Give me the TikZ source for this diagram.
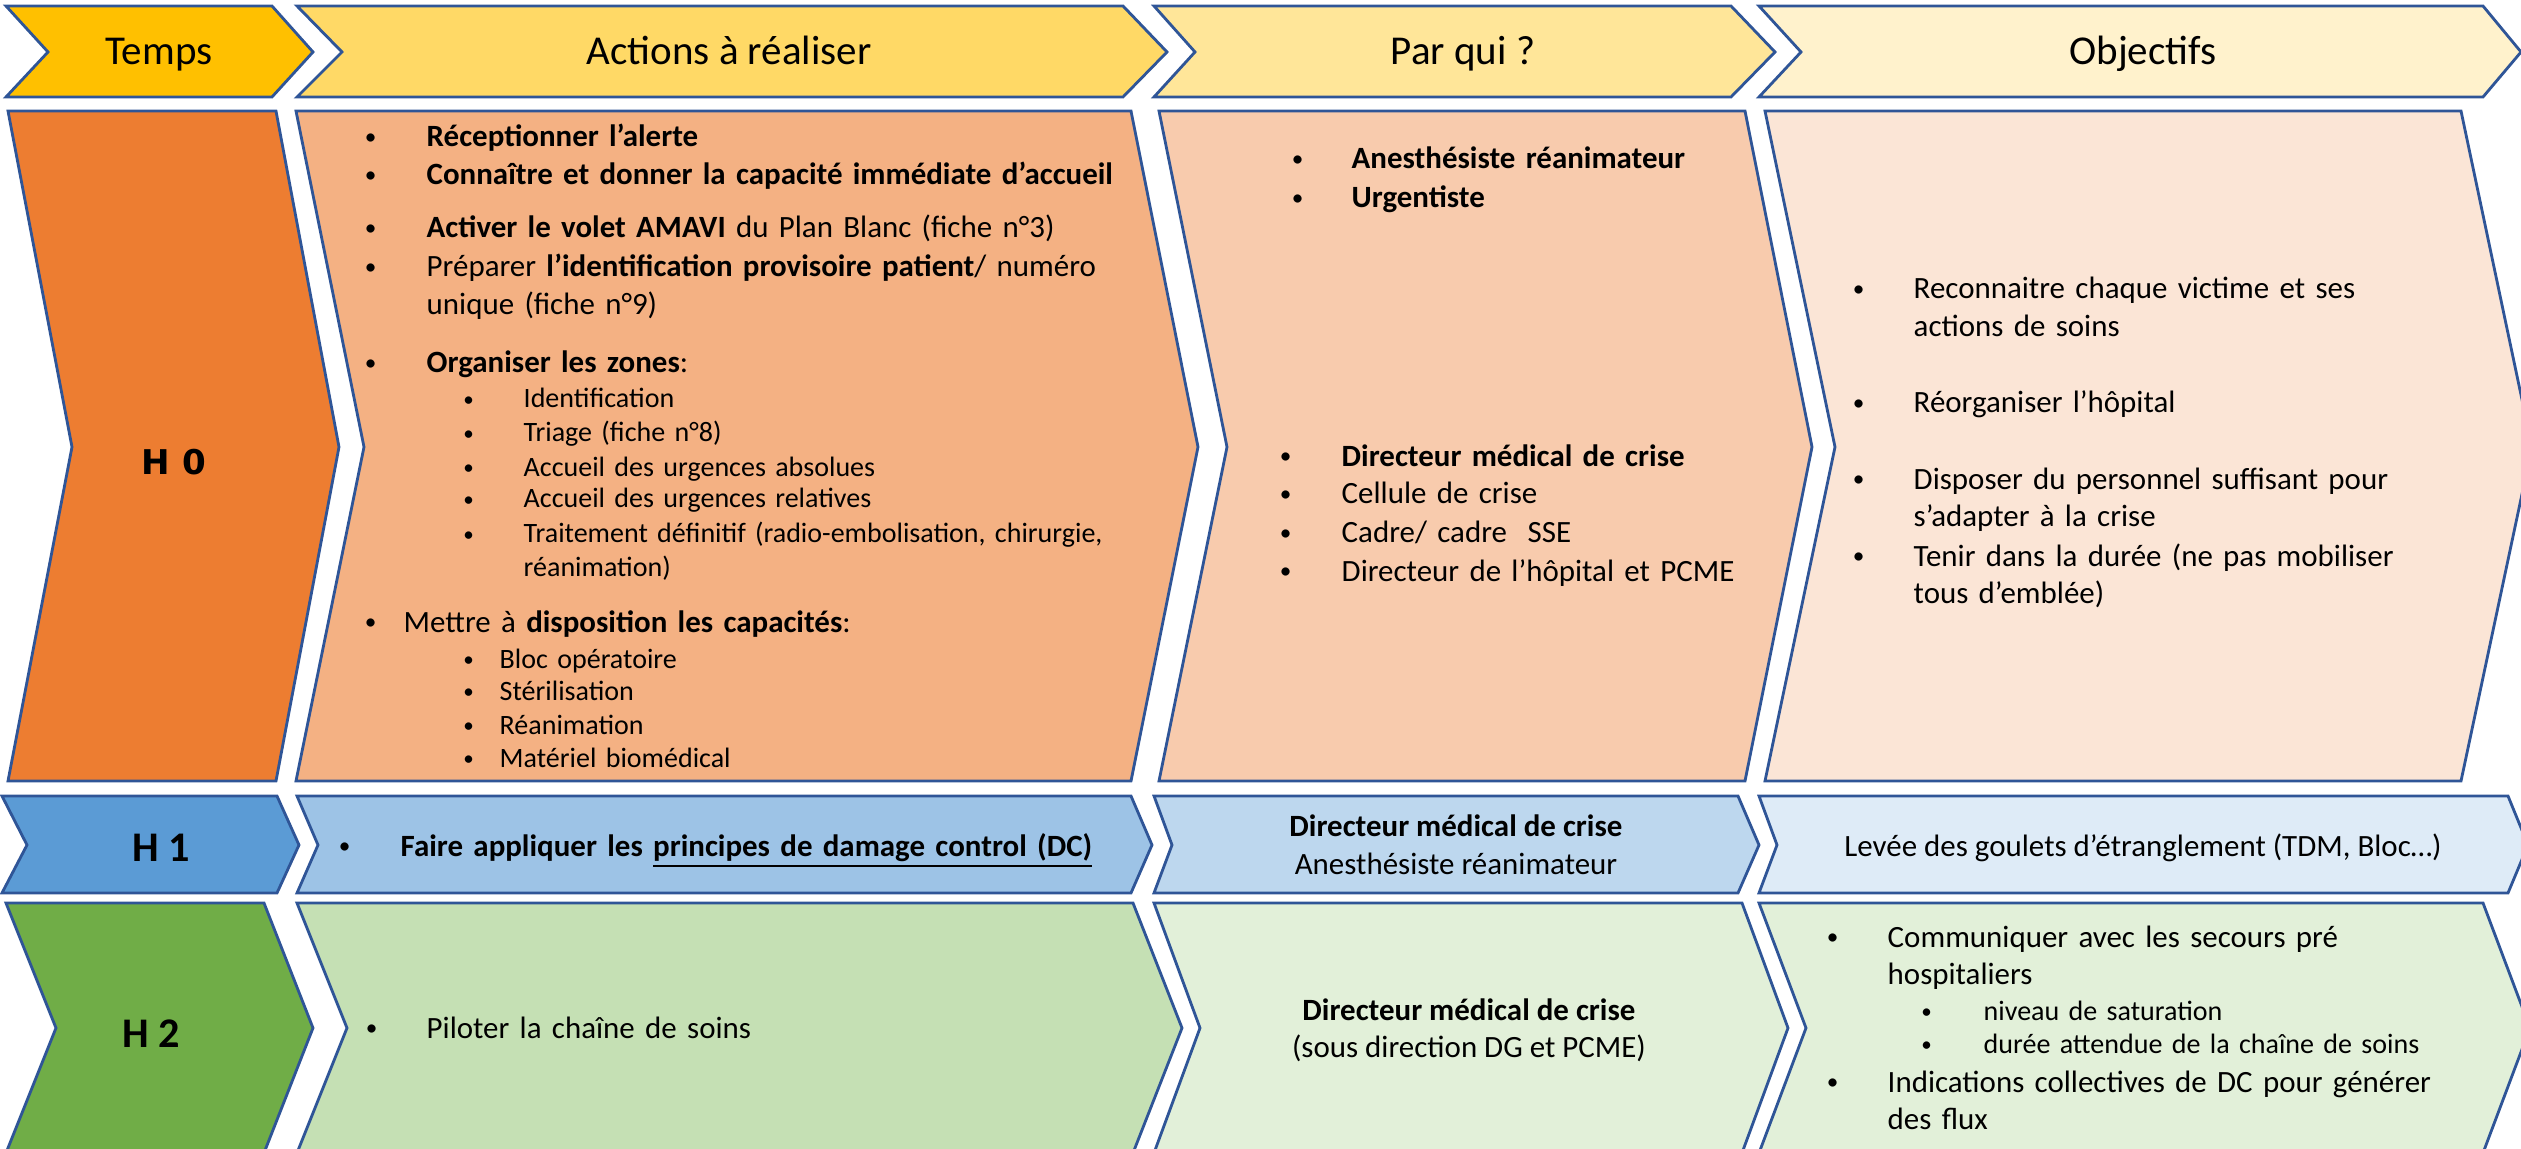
\documentclass[tikz,border=0pt]{standalone}
\usepackage{fontspec}
\setmainfont{Carlito}
\newfontfamily\hzerofont{DejaVu Sans}
\usepackage{graphicx}
\usepackage{tikz}

\definecolor{bordure}{HTML}{2F5597}
\definecolor{cTemps}{HTML}{FFC000}
\definecolor{cActE}{HTML}{FFD966}
\definecolor{cParE}{HTML}{FFE699}
\definecolor{cObjE}{HTML}{FFF2CC}
\definecolor{cHzero}{HTML}{ED7D31}
\definecolor{cActZ}{HTML}{F4B183}
\definecolor{cParZ}{HTML}{F8CBAD}
\definecolor{cObjZ}{HTML}{FBE5D6}
\definecolor{cHun}{HTML}{5B9BD5}
\definecolor{cActU}{HTML}{9DC3E6}
\definecolor{cParU}{HTML}{BDD7EE}
\definecolor{cObjU}{HTML}{DEEBF7}
\definecolor{cHdeux}{HTML}{70AD47}
\definecolor{cActD}{HTML}{C5E0B4}
\definecolor{cParD}{HTML}{E2F0D9}
\definecolor{cObjD}{HTML}{E2F0D9}

\newcommand\puce[1]{\llap{\makebox[0pt][c]{\raisebox{0.07em}{\scalebox{0.75}{\textbullet}}}\hspace{#1}}}

\tikzset{
  chevron/.style={draw=bordure, line width=0.8pt, line join=miter},
  txt/.style={anchor=base west, inner sep=0pt, text width=9cm, align=left,
    font=\fontsize{8.8}{10.8}\selectfont},
  sous/.style={txt, font=\fontsize{7.97}{9.6}\selectfont},
  centre/.style={anchor=base, inner sep=0pt, font=\fontsize{8.8}{10.8}\selectfont},
  entete/.style={anchor=base, inner sep=0pt, font=\fontsize{11.66}{14}\selectfont},
  etiq/.style={anchor=base, inner sep=0pt, font=\fontsize{12}{14}\selectfont\bfseries},
}

\begin{document}
\begin{tikzpicture}[x=0.01cm, y=-0.01cm]
\useasboundingbox (0,0) rectangle (2521,1149);

% en-tetes
\filldraw[chevron, fill=cTemps] (6,6) -- (272,6) -- (313,52) -- (272,97) -- (6,97) -- (48,52) -- cycle;
\filldraw[chevron, fill=cActE] (297,6) -- (1123,6) -- (1167,52) -- (1123,97) -- (297,97) -- (342,52) -- cycle;
\filldraw[chevron, fill=cParE] (1154,6) -- (1731,6) -- (1775,52) -- (1731,97) -- (1154,97) -- (1195,52) -- cycle;
\filldraw[chevron, fill=cObjE] (1759,6) -- (2483,6) -- (2521,52) -- (2483,97) -- (1759,97) -- (1801,52) -- cycle;
\node[entete] (temps) at (159,65) {Temps};
\node[entete] (actions) at (729,65) {Actions à réaliser};
\node[entete] (parqui) at (1463,65) {Par qui ?};
\node[entete] (objectifs) at (2143,65) {Objectifs};

% H 0
\filldraw[chevron, fill=cHzero] (8,111) -- (276,111) -- (339,447) -- (276,781) -- (8,781) -- (72,447) -- cycle;
\filldraw[chevron, fill=cActZ] (296,111) -- (1131,111) -- (1198,447) -- (1131,781) -- (296,781) -- (364,447) -- cycle;
\filldraw[chevron, fill=cParZ] (1159,111) -- (1745,111) -- (1812,447) -- (1745,781) -- (1159,781) -- (1227,447) -- cycle;
\filldraw[chevron, fill=cObjZ] (1765,111) -- (2461,111) -- (2532,447) -- (2461,781) -- (1765,781) -- (1835,447) -- cycle;
\node[anchor=base, inner sep=0pt, font=\hzerofont\bfseries\fontsize{9.7}{12}\selectfont] (hzero) at (174,475) {H 0};

\node[txt] (recep) at (426,147) {\puce{0.56cm}\textbf{Réceptionner l’alerte}};
\node[txt] (capa) at (426,185) {\puce{0.56cm}\textbf{Connaître et donner la capacité immédiate d’accueil}};
\node[txt] (amavi) at (426,238) {\puce{0.56cm}\textbf{Activer le volet AMAVI} du Plan Blanc (fiche n°3)};
\node[txt] (ident) at (426,277) {\puce{0.56cm}Préparer \textbf{l’identification provisoire patient}/ numéro\\unique (fiche n°9)};
\node[txt] (zones) at (426,373) {\puce{0.56cm}\textbf{Organiser les zones}:};
\node[sous] (zid) at (523,408) {\puce{0.55cm}Identification};
\node[sous] (ztri) at (523,442) {\puce{0.55cm}Triage (fiche n°8)};
\node[sous] (zabs) at (523,476) {\puce{0.55cm}Accueil des urgences absolues};
\node[sous] (zrel) at (523,508) {\puce{0.55cm}Accueil des urgences relatives};
\node[sous] (zdef) at (523,543) {\puce{0.55cm}Traitement définitif (radio-embolisation, chirurgie,\\réanimation)};
\node[txt] (dispo) at (403,632) {\puce{0.33cm}Mettre à \textbf{disposition les capacités}:};
\node[sous] (cbloc) at (499,668) {\puce{0.31cm}Bloc opératoire};
\node[sous] (cster) at (499,700) {\puce{0.31cm}Stérilisation};
\node[sous] (crea) at (499,734) {\puce{0.31cm}Réanimation};
\node[sous] (cmat) at (499,767) {\puce{0.31cm}Matériel biomédical};

\node[txt] (anes) at (1351,169) {\puce{0.54cm}\textbf{Anesthésiste réanimateur}};
\node[txt] (urg) at (1351,208) {\puce{0.54cm}\textbf{Urgentiste}};
\node[txt] (dmc) at (1341,466) {\puce{0.56cm}\textbf{Directeur médical de crise}};
\node[txt] (cell) at (1341,504) {\puce{0.56cm}Cellule de crise};
\node[txt] (cadre) at (1341,543) {\puce{0.56cm}Cadre/ cadre\ \ SSE};
\node[txt] (dirh) at (1341,581) {\puce{0.56cm}Directeur de l’hôpital et PCME};

\node[txt] (victime) at (1913,299) {\puce{0.55cm}Reconnaitre chaque victime et ses\\actions de soins};
\node[txt] (reorg) at (1913,413) {\puce{0.55cm}Réorganiser l’hôpital};
\node[txt] (perso) at (1913,489) {\puce{0.55cm}Disposer du personnel suffisant pour\\s’adapter à la crise};
\node[txt] (duree) at (1913,566) {\puce{0.55cm}Tenir dans la durée (ne pas mobiliser\\tous d’emblée)};

% H 1
\filldraw[chevron, fill=cHun] (2,796) -- (277,796) -- (299,845) -- (277,893) -- (2,893) -- (27,845) -- cycle;
\filldraw[chevron, fill=cActU] (297,796) -- (1131,796) -- (1152,845) -- (1131,893) -- (297,893) -- (318,845) -- cycle;
\filldraw[chevron, fill=cParU] (1154,796) -- (1738,796) -- (1759,845) -- (1738,893) -- (1154,893) -- (1172,845) -- cycle;
\filldraw[chevron, fill=cObjU] (1759,796) -- (2508,796) -- (2528,845) -- (2508,893) -- (1759,893) -- (1777,845) -- cycle;
\node[etiq] (hun) at (161,861) {H 1};
\node[txt] (damage) at (400,856) {\puce{0.56cm}\textbf{Faire appliquer les \underline{principes de damage control (DC)}}};
\node[centre, font=\fontsize{8.8}{10.8}\selectfont\bfseries] (dmcu) at (1456,836) {Directeur médical de crise};
\node[centre] (anesu) at (1456,874) {Anesthésiste réanimateur};
\node[centre] (goulets) at (2143,856) {Levée des goulets d’étranglement (TDM, Bloc…)};

% H 2
\filldraw[chevron, fill=cHdeux] (6,903) -- (264,903) -- (313,1028) -- (264,1153) -- (6,1153) -- (56,1028) -- cycle;
\filldraw[chevron, fill=cActD] (297,903) -- (1133,903) -- (1182,1028) -- (1133,1153) -- (297,1153) -- (347,1028) -- cycle;
\filldraw[chevron, fill=cParD] (1154,903) -- (1742,903) -- (1788,1028) -- (1742,1153) -- (1154,1153) -- (1200,1028) -- cycle;
\filldraw[chevron, fill=cObjD] (1759,903) -- (2483,903) -- (2530,1028) -- (2483,1153) -- (1759,1153) -- (1806,1028) -- cycle;
\node[etiq] (hdeux) at (151,1047) {H 2};
\node[txt] (pilot) at (426,1038) {\puce{0.55cm}Piloter la chaîne de soins};
\node[centre, font=\fontsize{8.8}{10.8}\selectfont\bfseries] (dmcd) at (1469,1020) {Directeur médical de crise};
\node[centre] (sousdir) at (1469,1057) {(sous direction DG et PCME)};
\node[txt] (secours) at (1887,947) {\puce{0.55cm}Communiquer avec les secours pré\\hospitaliers};
\node[sous] (satur) at (1983,1020) {\puce{0.57cm}niveau de saturation};
\node[sous] (attendue) at (1983,1053) {\puce{0.57cm}durée attendue de la chaîne de soins};
\node[txt] (flux) at (1887,1092) {\puce{0.55cm}Indications collectives de DC pour générer\\des flux};
\end{tikzpicture}
\end{document}
